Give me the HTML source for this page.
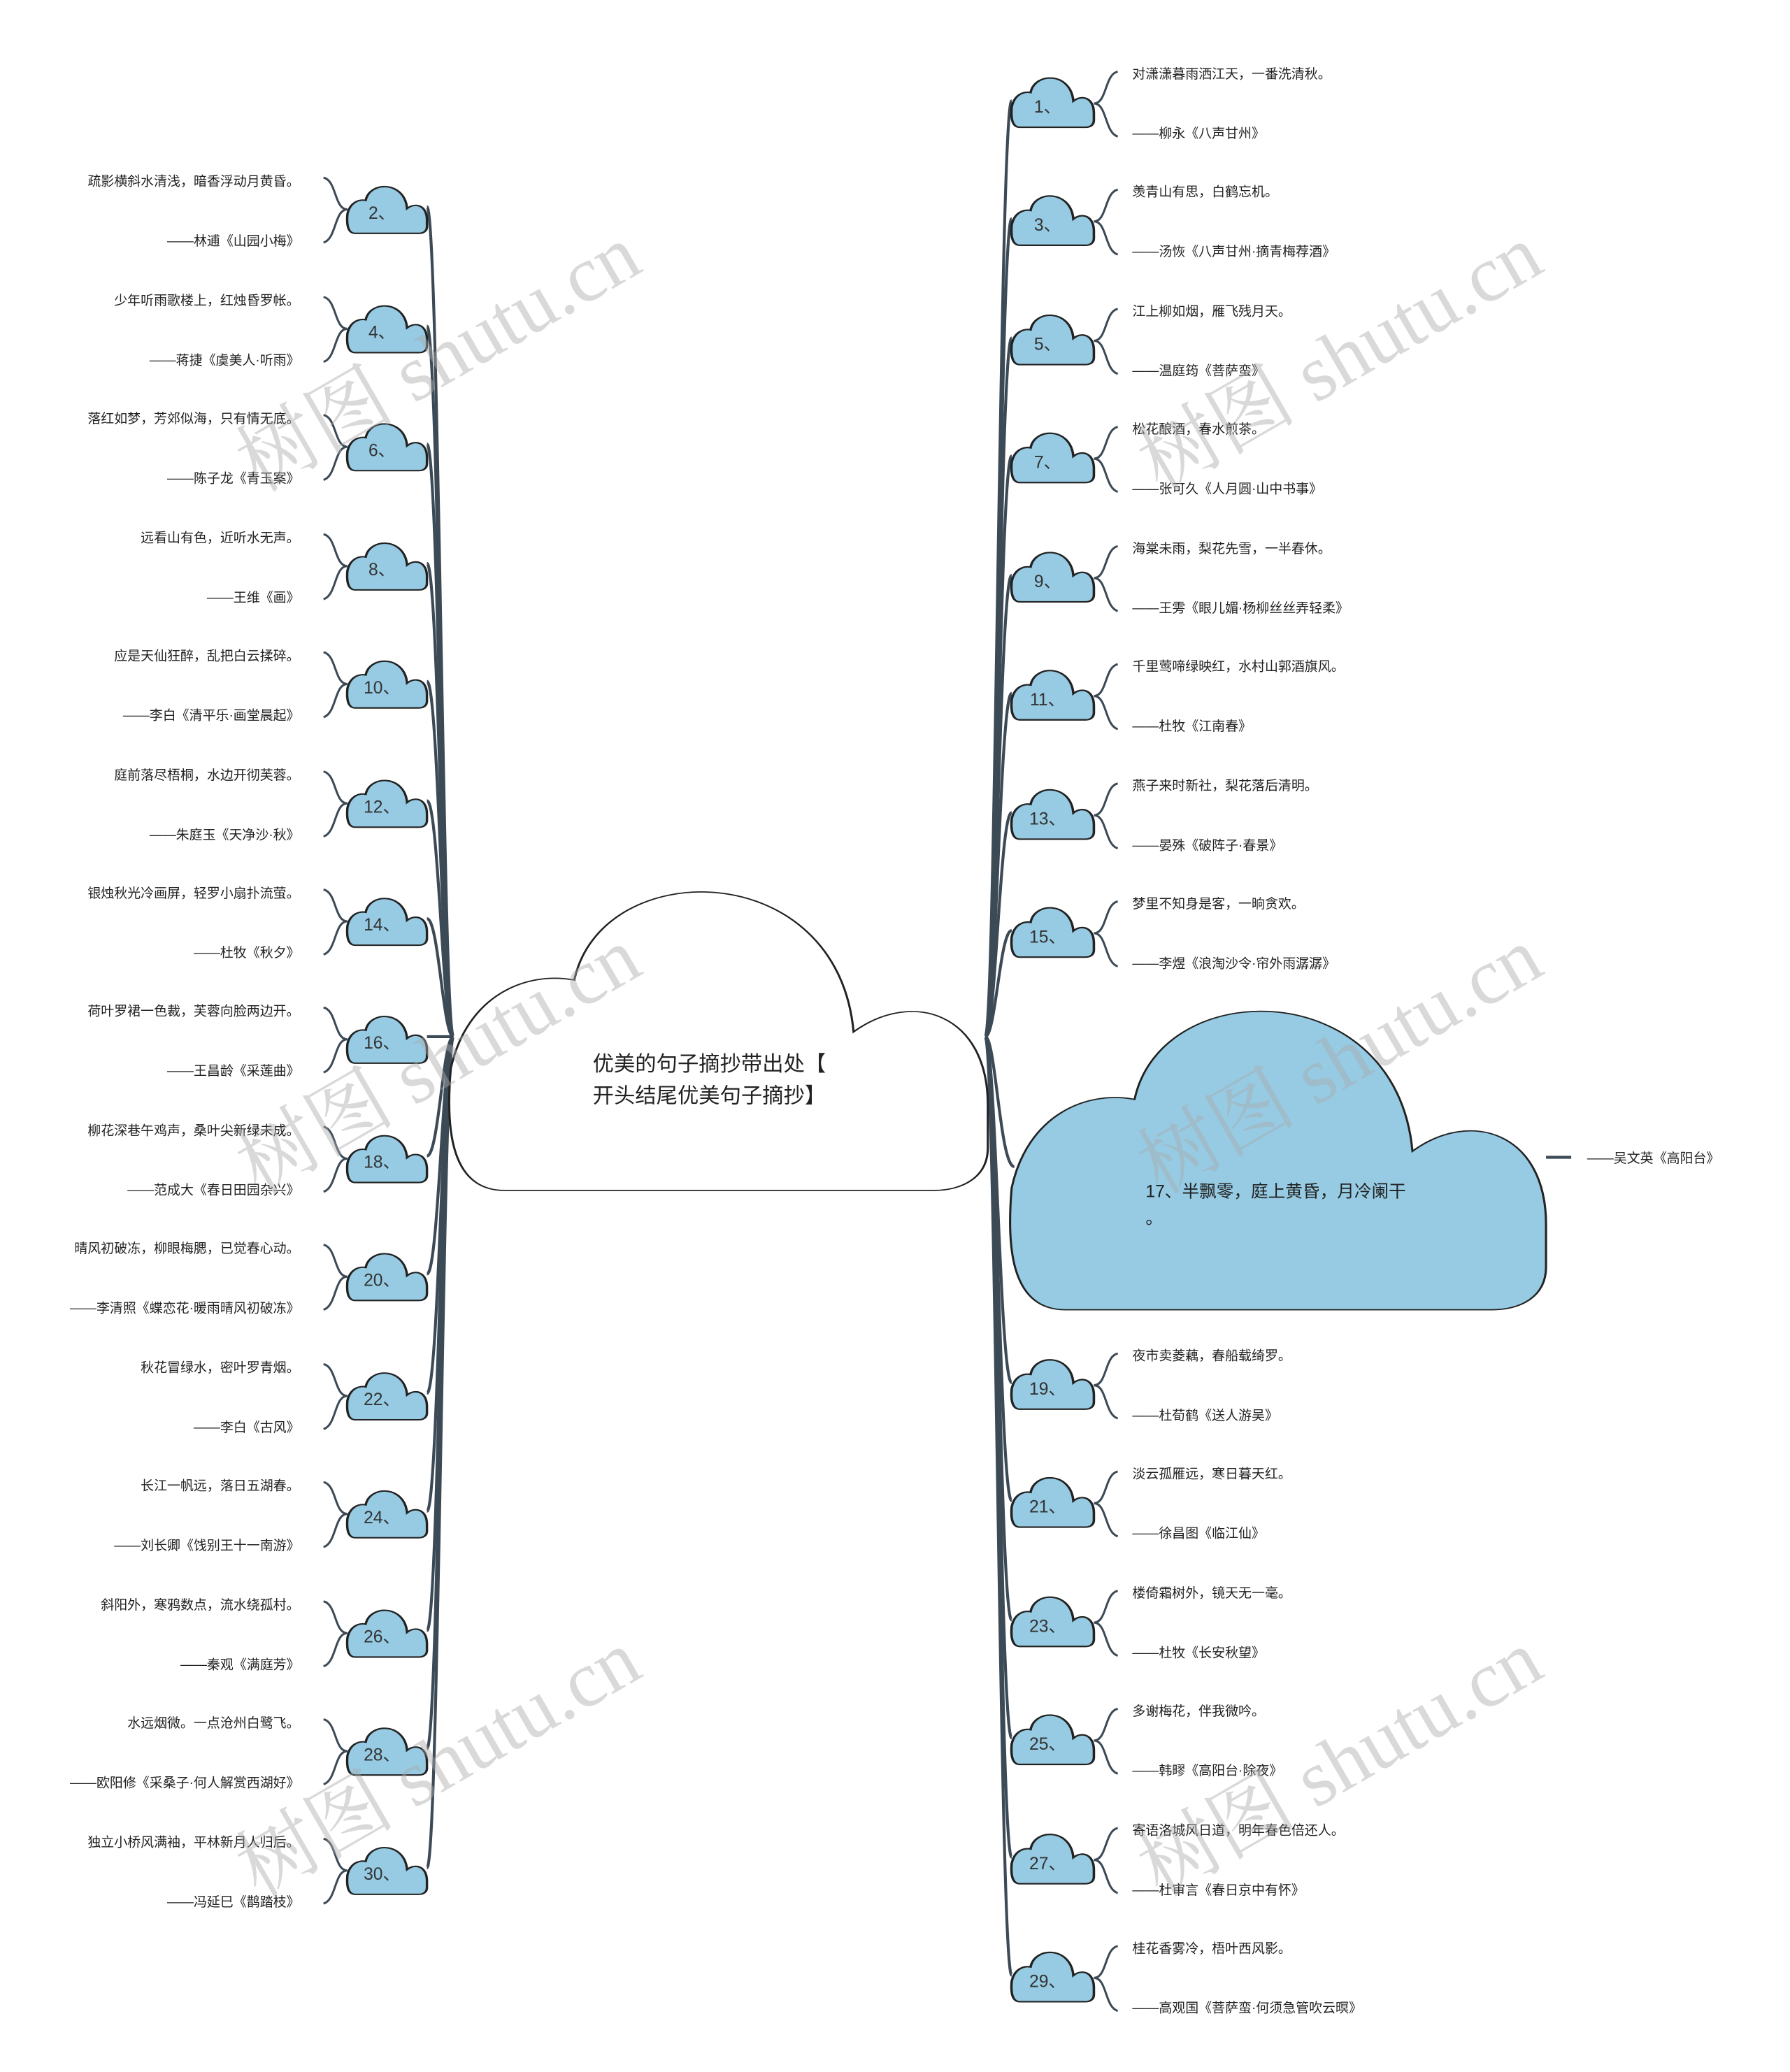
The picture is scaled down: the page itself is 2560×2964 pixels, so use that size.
<!DOCTYPE html>
<html><head><meta charset="utf-8"><style>
html,body{margin:0;padding:0;background:#fff;}
svg{display:block;}
text{font-family:"Liberation Sans","Noto Sans CJK SC",sans-serif;fill:#222;}
.l{font-size:10px;}
.n{font-size:13px;fill:#333;}
.b{fill:none;stroke:#3c4a56;stroke-width:1.6;}
.t{fill:none;stroke:#3c4a56;stroke-width:2.2;}
.w{font-family:"Liberation Serif","Noto Serif CJK SC",serif;font-size:60px;fill:rgba(170,170,170,0.45);}
</style></head><body>
<svg width="2560" height="2964" viewBox="0 0 1350 1563" xmlns="http://www.w3.org/2000/svg">
<defs>
<path id="cl" d="M0.1,1 C0.0,1 -0.01,0.8 0.0,0.6 C0.03,0.36 0.14,0.28 0.23,0.31 C0.28,-0.1 0.72,-0.1 0.75,0.48 C0.86,0.34 1.0,0.42 1,0.72 L1,0.86 C1,0.96 0.95,1 0.9,1 Z"/>
</defs>

<g class="t">
<path d="M322,156 C331,156 334,782 342,782"/><path d="M322,246 C331,246 334,782 342,782"/>
<path d="M322,335 C331,335 334,782 342,782"/><path d="M322,425 C331,425 334,782 342,782"/>
<path d="M322,514 C331,514 334,782 342,782"/><path d="M322,604 C331,604 334,782 342,782"/>
<path d="M322,693 C331,693 334,782 342,782"/><path d="M322,782 L342,782"/>
<path d="M322,872 C331,872 334,782 342,782"/><path d="M322,961 C331,961 334,782 342,782"/>
<path d="M322,1051 C331,1051 334,782 342,782"/><path d="M322,1140 C331,1140 334,782 342,782"/>
<path d="M322,1230 C331,1230 334,782 342,782"/><path d="M322,1319 C331,1319 334,782 342,782"/>
<path d="M322,1409 C331,1409 334,782 342,782"/>
<path d="M763,76 C754,76 751,782 743,782"/><path d="M763,165 C754,165 751,782 743,782"/>
<path d="M763,255 C754,255 751,782 743,782"/><path d="M763,344 C754,344 751,782 743,782"/>
<path d="M763,434 C754,434 751,782 743,782"/><path d="M763,523 C754,523 751,782 743,782"/>
<path d="M763,613 C754,613 751,782 743,782"/><path d="M763,702 C754,702 751,782 743,782"/>
<path d="M765,880 C754,880 751,782 743,782"/>
<path d="M763,1043 C754,1043 751,782 743,782"/><path d="M763,1132 C754,1132 751,782 743,782"/>
<path d="M763,1222 C754,1222 751,782 743,782"/><path d="M763,1311 C754,1311 751,782 743,782"/>
<path d="M763,1401 C754,1401 751,782 743,782"/><path d="M763,1490 C754,1490 751,782 743,782"/>
<path d="M1166,873 L1185,873"/>
</g>

<use href="#cl" transform="translate(340,668) scale(405,230)" style="fill:#fff;stroke:#222;stroke-width:0.004"/>
<text x="447" y="808" style="font-size:16px">优美的句子摘抄带出处【</text>
<text x="447" y="832" style="font-size:16px">开头结尾优美句子摘抄】</text>

<use href="#cl" transform="translate(763,758) scale(403,230)" style="fill:#96cbe3;stroke:#222;stroke-width:0.004"/>
<text x="864" y="903" style="font-size:13px">17、半飘零，庭上黄昏，月冷阑干</text>
<text x="864" y="923" style="font-size:13px">。</text>
<text class="l" x="1197" y="877">——吴文英《高阳台》</text>

<g>
<g transform="translate(0,160)"><use href="#cl" transform="translate(262,-20) scale(60,36)" style="fill:#96cbe3;stroke:#222;stroke-width:0.03"/><text class="n" x="288" y="5" text-anchor="middle">2、</text><path class="b" d="M262,-2 C252,-2 254,-24 244,-26 M262,-2 C252,-2 254,20 244,23"/><text class="l" x="226" y="-20" text-anchor="end">疏影横斜水清浅，暗香浮动月黄昏。</text><text class="l" x="226" y="25" text-anchor="end">——林逋《山园小梅》</text></g>
<g transform="translate(0,250)"><use href="#cl" transform="translate(262,-20) scale(60,36)" style="fill:#96cbe3;stroke:#222;stroke-width:0.03"/><text class="n" x="288" y="5" text-anchor="middle">4、</text><path class="b" d="M262,-2 C252,-2 254,-24 244,-26 M262,-2 C252,-2 254,20 244,23"/><text class="l" x="226" y="-20" text-anchor="end">少年听雨歌楼上，红烛昏罗帐。</text><text class="l" x="226" y="25" text-anchor="end">——蒋捷《虞美人·听雨》</text></g>
<g transform="translate(0,339)"><use href="#cl" transform="translate(262,-20) scale(60,36)" style="fill:#96cbe3;stroke:#222;stroke-width:0.03"/><text class="n" x="288" y="5" text-anchor="middle">6、</text><path class="b" d="M262,-2 C252,-2 254,-24 244,-26 M262,-2 C252,-2 254,20 244,23"/><text class="l" x="226" y="-20" text-anchor="end">落红如梦，芳郊似海，只有情无底。</text><text class="l" x="226" y="25" text-anchor="end">——陈子龙《青玉案》</text></g>
<g transform="translate(0,429)"><use href="#cl" transform="translate(262,-20) scale(60,36)" style="fill:#96cbe3;stroke:#222;stroke-width:0.03"/><text class="n" x="288" y="5" text-anchor="middle">8、</text><path class="b" d="M262,-2 C252,-2 254,-24 244,-26 M262,-2 C252,-2 254,20 244,23"/><text class="l" x="226" y="-20" text-anchor="end">远看山有色，近听水无声。</text><text class="l" x="226" y="25" text-anchor="end">——王维《画》</text></g>
<g transform="translate(0,518)"><use href="#cl" transform="translate(262,-20) scale(60,36)" style="fill:#96cbe3;stroke:#222;stroke-width:0.03"/><text class="n" x="288" y="5" text-anchor="middle">10、</text><path class="b" d="M262,-2 C252,-2 254,-24 244,-26 M262,-2 C252,-2 254,20 244,23"/><text class="l" x="226" y="-20" text-anchor="end">应是天仙狂醉，乱把白云揉碎。</text><text class="l" x="226" y="25" text-anchor="end">——李白《清平乐·画堂晨起》</text></g>
<g transform="translate(0,608)"><use href="#cl" transform="translate(262,-20) scale(60,36)" style="fill:#96cbe3;stroke:#222;stroke-width:0.03"/><text class="n" x="288" y="5" text-anchor="middle">12、</text><path class="b" d="M262,-2 C252,-2 254,-24 244,-26 M262,-2 C252,-2 254,20 244,23"/><text class="l" x="226" y="-20" text-anchor="end">庭前落尽梧桐，水边开彻芙蓉。</text><text class="l" x="226" y="25" text-anchor="end">——朱庭玉《天净沙·秋》</text></g>
<g transform="translate(0,697)"><use href="#cl" transform="translate(262,-20) scale(60,36)" style="fill:#96cbe3;stroke:#222;stroke-width:0.03"/><text class="n" x="288" y="5" text-anchor="middle">14、</text><path class="b" d="M262,-2 C252,-2 254,-24 244,-26 M262,-2 C252,-2 254,20 244,23"/><text class="l" x="226" y="-20" text-anchor="end">银烛秋光冷画屏，轻罗小扇扑流萤。</text><text class="l" x="226" y="25" text-anchor="end">——杜牧《秋夕》</text></g>
<g transform="translate(0,786)"><use href="#cl" transform="translate(262,-20) scale(60,36)" style="fill:#96cbe3;stroke:#222;stroke-width:0.03"/><text class="n" x="288" y="5" text-anchor="middle">16、</text><path class="b" d="M262,-2 C252,-2 254,-24 244,-26 M262,-2 C252,-2 254,20 244,23"/><text class="l" x="226" y="-20" text-anchor="end">荷叶罗裙一色裁，芙蓉向脸两边开。</text><text class="l" x="226" y="25" text-anchor="end">——王昌龄《采莲曲》</text></g>
<g transform="translate(0,876)"><use href="#cl" transform="translate(262,-20) scale(60,36)" style="fill:#96cbe3;stroke:#222;stroke-width:0.03"/><text class="n" x="288" y="5" text-anchor="middle">18、</text><path class="b" d="M262,-2 C252,-2 254,-24 244,-26 M262,-2 C252,-2 254,20 244,23"/><text class="l" x="226" y="-20" text-anchor="end">柳花深巷午鸡声，桑叶尖新绿未成。</text><text class="l" x="226" y="25" text-anchor="end">——范成大《春日田园杂兴》</text></g>
<g transform="translate(0,965)"><use href="#cl" transform="translate(262,-20) scale(60,36)" style="fill:#96cbe3;stroke:#222;stroke-width:0.03"/><text class="n" x="288" y="5" text-anchor="middle">20、</text><path class="b" d="M262,-2 C252,-2 254,-24 244,-26 M262,-2 C252,-2 254,20 244,23"/><text class="l" x="226" y="-20" text-anchor="end">晴风初破冻，柳眼梅腮，已觉春心动。</text><text class="l" x="226" y="25" text-anchor="end">——李清照《蝶恋花·暖雨晴风初破冻》</text></g>
<g transform="translate(0,1055)"><use href="#cl" transform="translate(262,-20) scale(60,36)" style="fill:#96cbe3;stroke:#222;stroke-width:0.03"/><text class="n" x="288" y="5" text-anchor="middle">22、</text><path class="b" d="M262,-2 C252,-2 254,-24 244,-26 M262,-2 C252,-2 254,20 244,23"/><text class="l" x="226" y="-20" text-anchor="end">秋花冒绿水，密叶罗青烟。</text><text class="l" x="226" y="25" text-anchor="end">——李白《古风》</text></g>
<g transform="translate(0,1144)"><use href="#cl" transform="translate(262,-20) scale(60,36)" style="fill:#96cbe3;stroke:#222;stroke-width:0.03"/><text class="n" x="288" y="5" text-anchor="middle">24、</text><path class="b" d="M262,-2 C252,-2 254,-24 244,-26 M262,-2 C252,-2 254,20 244,23"/><text class="l" x="226" y="-20" text-anchor="end">长江一帆远，落日五湖春。</text><text class="l" x="226" y="25" text-anchor="end">——刘长卿《饯别王十一南游》</text></g>
<g transform="translate(0,1234)"><use href="#cl" transform="translate(262,-20) scale(60,36)" style="fill:#96cbe3;stroke:#222;stroke-width:0.03"/><text class="n" x="288" y="5" text-anchor="middle">26、</text><path class="b" d="M262,-2 C252,-2 254,-24 244,-26 M262,-2 C252,-2 254,20 244,23"/><text class="l" x="226" y="-20" text-anchor="end">斜阳外，寒鸦数点，流水绕孤村。</text><text class="l" x="226" y="25" text-anchor="end">——秦观《满庭芳》</text></g>
<g transform="translate(0,1323)"><use href="#cl" transform="translate(262,-20) scale(60,36)" style="fill:#96cbe3;stroke:#222;stroke-width:0.03"/><text class="n" x="288" y="5" text-anchor="middle">28、</text><path class="b" d="M262,-2 C252,-2 254,-24 244,-26 M262,-2 C252,-2 254,20 244,23"/><text class="l" x="226" y="-20" text-anchor="end">水远烟微。一点沧州白鹭飞。</text><text class="l" x="226" y="25" text-anchor="end">——欧阳修《采桑子·何人解赏西湖好》</text></g>
<g transform="translate(0,1413)"><use href="#cl" transform="translate(262,-20) scale(60,36)" style="fill:#96cbe3;stroke:#222;stroke-width:0.03"/><text class="n" x="288" y="5" text-anchor="middle">30、</text><path class="b" d="M262,-2 C252,-2 254,-24 244,-26 M262,-2 C252,-2 254,20 244,23"/><text class="l" x="226" y="-20" text-anchor="end">独立小桥风满袖，平林新月人归后。</text><text class="l" x="226" y="25" text-anchor="end">——冯延巳《鹊踏枝》</text></g>
</g>

<g>
<g transform="translate(0,80)"><use href="#cl" transform="translate(763,-22) scale(62,38)" style="fill:#96cbe3;stroke:#222;stroke-width:0.03"/><text class="n" x="790" y="5" text-anchor="middle">1、</text><path class="b" d="M825,-2 C835,-2 833,-24 843,-26 M825,-2 C835,-2 833,20 843,23"/><text class="l" x="854" y="-21">对潇潇暮雨洒江天，一番洗清秋。</text><text class="l" x="854" y="24">——柳永《八声甘州》</text></g>
<g transform="translate(0,169)"><use href="#cl" transform="translate(763,-22) scale(62,38)" style="fill:#96cbe3;stroke:#222;stroke-width:0.03"/><text class="n" x="790" y="5" text-anchor="middle">3、</text><path class="b" d="M825,-2 C835,-2 833,-24 843,-26 M825,-2 C835,-2 833,20 843,23"/><text class="l" x="854" y="-21">羡青山有思，白鹤忘机。</text><text class="l" x="854" y="24">——汤恢《八声甘州·摘青梅荐酒》</text></g>
<g transform="translate(0,259)"><use href="#cl" transform="translate(763,-22) scale(62,38)" style="fill:#96cbe3;stroke:#222;stroke-width:0.03"/><text class="n" x="790" y="5" text-anchor="middle">5、</text><path class="b" d="M825,-2 C835,-2 833,-24 843,-26 M825,-2 C835,-2 833,20 843,23"/><text class="l" x="854" y="-21">江上柳如烟，雁飞残月天。</text><text class="l" x="854" y="24">——温庭筠《菩萨蛮》</text></g>
<g transform="translate(0,348)"><use href="#cl" transform="translate(763,-22) scale(62,38)" style="fill:#96cbe3;stroke:#222;stroke-width:0.03"/><text class="n" x="790" y="5" text-anchor="middle">7、</text><path class="b" d="M825,-2 C835,-2 833,-24 843,-26 M825,-2 C835,-2 833,20 843,23"/><text class="l" x="854" y="-21">松花酿酒，春水煎茶。</text><text class="l" x="854" y="24">——张可久《人月圆·山中书事》</text></g>
<g transform="translate(0,438)"><use href="#cl" transform="translate(763,-22) scale(62,38)" style="fill:#96cbe3;stroke:#222;stroke-width:0.03"/><text class="n" x="790" y="5" text-anchor="middle">9、</text><path class="b" d="M825,-2 C835,-2 833,-24 843,-26 M825,-2 C835,-2 833,20 843,23"/><text class="l" x="854" y="-21">海棠未雨，梨花先雪，一半春休。</text><text class="l" x="854" y="24">——王雱《眼儿媚·杨柳丝丝弄轻柔》</text></g>
<g transform="translate(0,527)"><use href="#cl" transform="translate(763,-22) scale(62,38)" style="fill:#96cbe3;stroke:#222;stroke-width:0.03"/><text class="n" x="790" y="5" text-anchor="middle">11、</text><path class="b" d="M825,-2 C835,-2 833,-24 843,-26 M825,-2 C835,-2 833,20 843,23"/><text class="l" x="854" y="-21">千里莺啼绿映红，水村山郭酒旗风。</text><text class="l" x="854" y="24">——杜牧《江南春》</text></g>
<g transform="translate(0,617)"><use href="#cl" transform="translate(763,-22) scale(62,38)" style="fill:#96cbe3;stroke:#222;stroke-width:0.03"/><text class="n" x="790" y="5" text-anchor="middle">13、</text><path class="b" d="M825,-2 C835,-2 833,-24 843,-26 M825,-2 C835,-2 833,20 843,23"/><text class="l" x="854" y="-21">燕子来时新社，梨花落后清明。</text><text class="l" x="854" y="24">——晏殊《破阵子·春景》</text></g>
<g transform="translate(0,706)"><use href="#cl" transform="translate(763,-22) scale(62,38)" style="fill:#96cbe3;stroke:#222;stroke-width:0.03"/><text class="n" x="790" y="5" text-anchor="middle">15、</text><path class="b" d="M825,-2 C835,-2 833,-24 843,-26 M825,-2 C835,-2 833,20 843,23"/><text class="l" x="854" y="-21">梦里不知身是客，一晌贪欢。</text><text class="l" x="854" y="24">——李煜《浪淘沙令·帘外雨潺潺》</text></g>
<g transform="translate(0,1047)"><use href="#cl" transform="translate(763,-22) scale(62,38)" style="fill:#96cbe3;stroke:#222;stroke-width:0.03"/><text class="n" x="790" y="5" text-anchor="middle">19、</text><path class="b" d="M825,-2 C835,-2 833,-24 843,-26 M825,-2 C835,-2 833,20 843,23"/><text class="l" x="854" y="-21">夜市卖菱藕，春船载绮罗。</text><text class="l" x="854" y="24">——杜荀鹤《送人游吴》</text></g>
<g transform="translate(0,1136)"><use href="#cl" transform="translate(763,-22) scale(62,38)" style="fill:#96cbe3;stroke:#222;stroke-width:0.03"/><text class="n" x="790" y="5" text-anchor="middle">21、</text><path class="b" d="M825,-2 C835,-2 833,-24 843,-26 M825,-2 C835,-2 833,20 843,23"/><text class="l" x="854" y="-21">淡云孤雁远，寒日暮天红。</text><text class="l" x="854" y="24">——徐昌图《临江仙》</text></g>
<g transform="translate(0,1226)"><use href="#cl" transform="translate(763,-22) scale(62,38)" style="fill:#96cbe3;stroke:#222;stroke-width:0.03"/><text class="n" x="790" y="5" text-anchor="middle">23、</text><path class="b" d="M825,-2 C835,-2 833,-24 843,-26 M825,-2 C835,-2 833,20 843,23"/><text class="l" x="854" y="-21">楼倚霜树外，镜天无一毫。</text><text class="l" x="854" y="24">——杜牧《长安秋望》</text></g>
<g transform="translate(0,1315)"><use href="#cl" transform="translate(763,-22) scale(62,38)" style="fill:#96cbe3;stroke:#222;stroke-width:0.03"/><text class="n" x="790" y="5" text-anchor="middle">25、</text><path class="b" d="M825,-2 C835,-2 833,-24 843,-26 M825,-2 C835,-2 833,20 843,23"/><text class="l" x="854" y="-21">多谢梅花，伴我微吟。</text><text class="l" x="854" y="24">——韩疁《高阳台·除夜》</text></g>
<g transform="translate(0,1405)"><use href="#cl" transform="translate(763,-22) scale(62,38)" style="fill:#96cbe3;stroke:#222;stroke-width:0.03"/><text class="n" x="790" y="5" text-anchor="middle">27、</text><path class="b" d="M825,-2 C835,-2 833,-24 843,-26 M825,-2 C835,-2 833,20 843,23"/><text class="l" x="854" y="-21">寄语洛城风日道，明年春色倍还人。</text><text class="l" x="854" y="24">——杜审言《春日京中有怀》</text></g>
<g transform="translate(0,1494)"><use href="#cl" transform="translate(763,-22) scale(62,38)" style="fill:#96cbe3;stroke:#222;stroke-width:0.03"/><text class="n" x="790" y="5" text-anchor="middle">29、</text><path class="b" d="M825,-2 C835,-2 833,-24 843,-26 M825,-2 C835,-2 833,20 843,23"/><text class="l" x="854" y="-21">桂花香雾冷，梧叶西风影。</text><text class="l" x="854" y="24">——高观国《菩萨蛮·何须急管吹云暝》</text></g>
</g>

<text class="w" transform="translate(195,372) rotate(-30)">树图 shutu.cn</text>
<text class="w" transform="translate(875,372) rotate(-30)">树图 shutu.cn</text>
<text class="w" transform="translate(195,902) rotate(-30)">树图 shutu.cn</text>
<text class="w" transform="translate(875,902) rotate(-30)">树图 shutu.cn</text>
<text class="w" transform="translate(195,1432) rotate(-30)">树图 shutu.cn</text>
<text class="w" transform="translate(875,1432) rotate(-30)">树图 shutu.cn</text>
</svg>
</body></html>
